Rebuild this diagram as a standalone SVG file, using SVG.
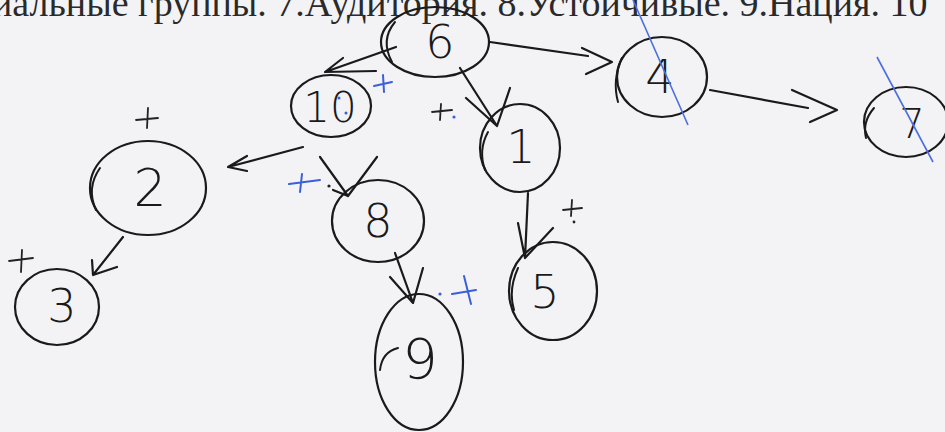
<svg xmlns="http://www.w3.org/2000/svg" width="945" height="432" viewBox="0 0 945 432">
<style>
.node{fill:none;stroke:#1a1a1a;stroke-width:2.2}
.tail{fill:none;stroke:#1a1a1a;stroke-width:2;stroke-linecap:round}
.lbl{font-family:"DejaVu Sans","Liberation Sans",sans-serif;font-weight:200;font-size:46px;fill:#1a1a1a;text-anchor:middle}
.edge{fill:none;stroke:#1a1a1a;stroke-width:2.2;stroke-linecap:round;stroke-linejoin:round}
.plus{fill:none;stroke:#222;stroke-width:1.8;stroke-linecap:round}
.bplus{fill:none;stroke:#3a5fd8;stroke-width:2;stroke-linecap:round}
.strike{stroke:#4a6fe0;stroke-width:1.6}
.head{font-family:"Liberation Serif","Times New Roman",serif;font-size:38px;fill:#2a2a2a}
</style>
<rect width="945" height="432" fill="#f3f3f6"/>
<text class="head" x="-8" y="16">иальные группы. 7.Аудитория.  8.Устойчивые. 9.Нация. 10</text>

<g id="connectors">
  <path class="edge" d="M396,47 L325,72 M325,72 L343,58 M325,72 L376,71"/>
  <path class="edge" d="M490,42 L588,56 M582,48 L612,62 L586,74"/>
  <path class="edge" d="M460,68 L497,126 M466,98 L497,126 L510,88"/>
  <path class="edge" d="M710,90 L808,108 M792,90 L837,110 L810,122"/>
  <path class="edge" d="M303,147 L228,167 L247,156 M228,167 L247,171"/>
  <path class="edge" d="M123,237 L93,275 L92,260 M93,275 L117,267"/>
  <path class="edge" d="M320,157 L348,196 L377,157 M348,196 L333,190"/>
  <path class="edge" d="M395,253 L413,303 L390,277 M413,303 L423,268"/>
  <path class="edge" d="M528,193 L525,258 L518,223 M525,258 L553,228"/>
</g>

<g id="node-6"><ellipse class="node" cx="435" cy="42" rx="54" ry="35"/><path class="tail" d="M395,22 Q380,40 392,62"/><text class="lbl" x="440" y="58">6</text></g>
<g id="node-10"><ellipse class="node" cx="331" cy="106" rx="40" ry="31"/><text class="lbl" x="330" y="122" style="font-size:42px">10</text><circle cx="339" cy="98" r="1.5" fill="#3a5fd8"/><circle cx="346" cy="113" r="1.5" fill="#3a5fd8"/></g>
<g id="node-4"><ellipse class="node" cx="662" cy="77" rx="45" ry="40"/><path class="tail" d="M622,58 Q612,80 618,102"/><text class="lbl" x="660" y="93">4</text></g>
<g id="node-7"><ellipse class="node" cx="906" cy="122" rx="42" ry="35"/><path class="tail" d="M874,108 Q862,122 866,138"/><text class="lbl" x="912" y="138" style="font-size:40px">7</text></g>
<g id="node-1"><ellipse class="node" cx="520" cy="148" rx="40" ry="44"/><path class="tail" d="M488,132 Q478,150 485,170"/><text class="lbl" x="521" y="163">1</text></g>
<g id="node-2"><ellipse class="node" cx="148" cy="188" rx="58" ry="47"/><path class="tail" d="M100,168 Q86,188 96,210"/><text class="lbl" x="150" y="206" style="font-size:52px">2</text></g>
<g id="node-3"><ellipse class="node" cx="57" cy="307" rx="42" ry="38"/><text class="lbl" x="62" y="322">3</text></g>
<g id="node-8"><ellipse class="node" cx="378" cy="221" rx="46" ry="41"/><text class="lbl" x="378" y="237">8</text></g>
<g id="node-9"><ellipse class="node" cx="419" cy="362" rx="44" ry="68"/><path class="tail" d="M398,348 Q382,352 380,370"/><text class="lbl" x="420" y="378" style="font-size:56px">9</text></g>
<g id="node-5"><ellipse class="node" cx="553" cy="291" rx="44" ry="49"/><path class="tail" d="M518,268 Q508,290 514,310"/><text class="lbl" x="545" y="308">5</text></g>

<g id="marks">
  <path class="bplus" d="M374,86 L392,82 M383,75 L384,92"/>
  <path class="plus" d="M432,112 L452,110 M441,104 L440,120"/><circle cx="454" cy="117" r="1.6" fill="#3a5fd8"/>
  <path class="plus" d="M136,120 L158,118 M148,108 L147,128"/>
  <path class="plus" d="M9,261 L33,258 M22,250 L21,272"/>
  <path class="bplus" d="M289,184 L320,180 M302,174 L300,192"/><circle cx="329" cy="186" r="1.6" fill="#222"/>
  <path class="bplus" d="M452,294 L476,290 M464,276 L471,304"/><circle cx="440" cy="294" r="1.6" fill="#3a5fd8"/>
  <path class="plus" d="M563,210 L582,208 M572,200 L571,216"/><circle cx="574" cy="222" r="1.4" fill="#222"/>
  <line class="strike" x1="633" y1="0" x2="688" y2="125"/>
  <line class="strike" x1="877" y1="57" x2="933" y2="162"/>
</g>
</svg>
